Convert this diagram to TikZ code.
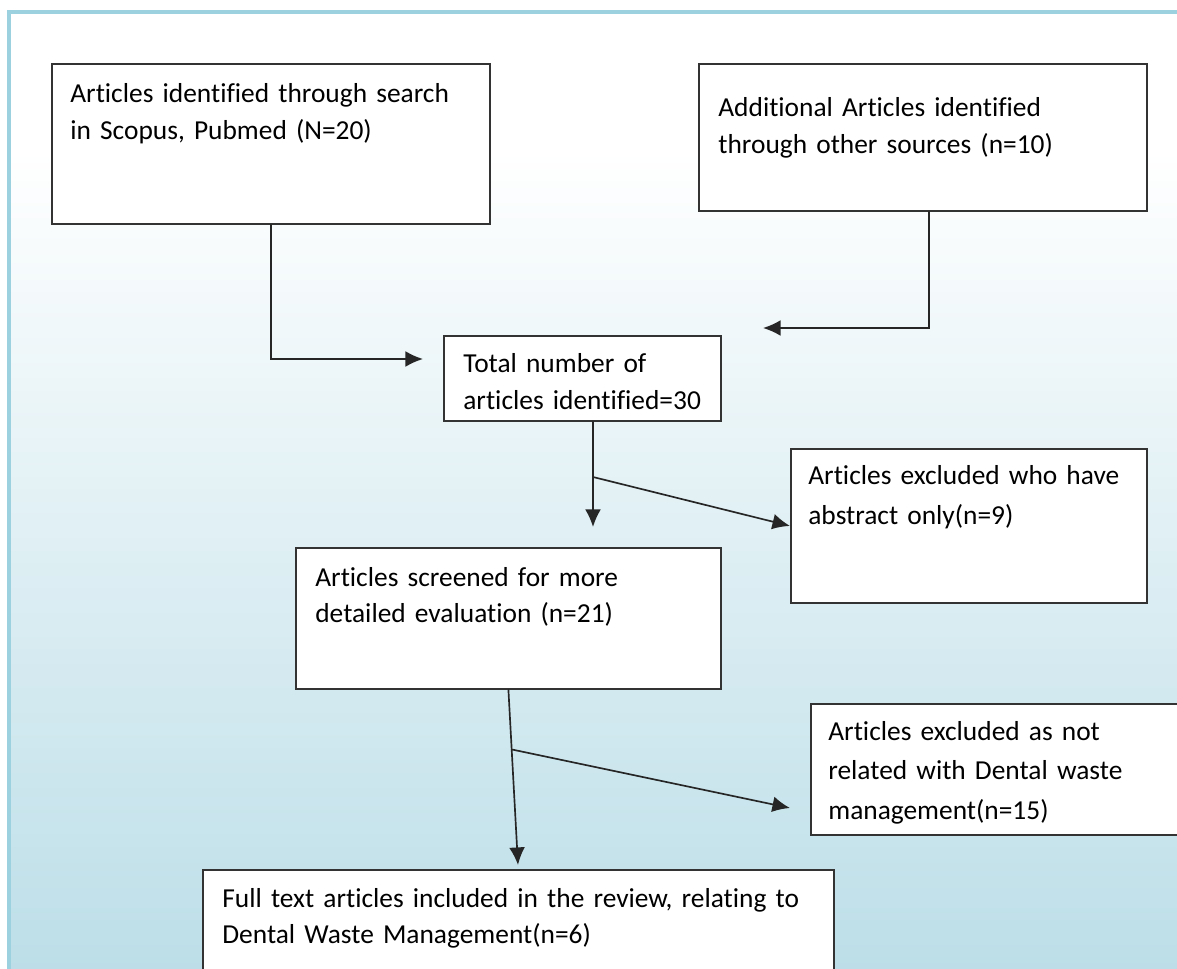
\documentclass[tikz,border=0pt]{standalone}
\usepackage{fontspec}
\setmainfont[Ligatures={NoCommon}]{Carlito}
\usetikzlibrary{arrows.meta,calc}

\begin{document}
\begin{tikzpicture}[x=0.02cm, y=-0.02cm, line cap=round,
  box/.style={draw=black!80, line width=1.1pt, fill=white, anchor=north west, inner sep=0pt},
  txt/.style={anchor=base west, inner sep=0pt, align=left, font=\fontsize{15.6}{20.5}\selectfont},
  txtwide/.style={txt, font=\fontsize{15.6}{22.5}\selectfont},
  flow/.style={draw=black!85, line width=0.95pt, -{Latex[length=10pt,width=9pt]}},
  line/.style={draw=black!85, line width=0.95pt}]
  \definecolor{frameblue}{HTML}{9CD2E0}
  \definecolor{bgblue}{HTML}{BADDE7}
  \useasboundingbox (0,0) rectangle (1177,969);
  \clip (0,0) rectangle (1177,969);
  % background frame
  \fill[white] (9,12) rectangle (1200,1000);
  \shade[top color=white, bottom color=bgblue] (9,150) rectangle (1200,1000);
  \draw[frameblue, line width=2pt] (9,12) rectangle (1200,1000);
  % boxes
  \node[box, minimum width=8.76cm, minimum height=3.2cm] (srch) at (51,63) {};
  \node[txt, text width=8.3cm] (srch-t) at (70,103) {Articles identified through search\\in Scopus, Pubmed (N=20)};
  \node[box, minimum width=8.96cm, minimum height=2.94cm] (othr) at (698,63) {};
  \node[txt, text width=8.5cm] (othr-t) at (718,117) {Additional Articles identified\\through other sources (n=10)};
  \node[box, minimum width=5.54cm, minimum height=1.7cm] (tot) at (443,335) {};
  \node[txt, text width=5.1cm] (tot-t) at (463,373) {Total number of\\articles identified=30};
  \node[box, minimum width=7.12cm, minimum height=3.08cm] (excl1) at (790,448) {};
  \node[txtwide, text width=6.8cm] (excl1-t) at (808,485) {Articles excluded who have\\abstract only(n=9)};
  \node[box, minimum width=8.5cm, minimum height=2.82cm] (scrn) at (295,547) {};
  \node[txt, text width=8cm] (scrn-t) at (315,586) {Articles screened for more\\detailed evaluation (n=21)};
  \node[box, minimum width=8cm, minimum height=2.62cm] (excl2) at (810,703) {};
  \node[txtwide, text width=7cm] (excl2-t) at (828,740) {Articles excluded as not\\related with Dental waste\\management(n=15)};
  \node[box, minimum width=12.62cm, minimum height=2.6cm] (incl) at (202,869) {};
  \node[txt, text width=12cm] (incl-t) at (222,907) {Full text articles included in the review, relating to\\Dental Waste Management(n=6)};
  % identification
  \coordinate (in1) at (423,359);
  \coordinate (in2) at (763,328);
  \draw[flow] (srch.south) |- (in1);
  \draw[flow] (othr.south) ++(6,0) |- (in2);
  % screening
  \coordinate (j1) at (593,477);
  \coordinate (d1) at (593,527);
  \draw[flow] (tot.south -| j1) -- (d1);
  \draw[flow] (j1) -- (excl1.west);
  \coordinate (d2) at (518,865);
  \coordinate (e2) at (790,808);
  \draw[flow] (scrn.south) -- (d2);
  \draw[flow] ($(scrn.south)!0.34!(d2)$) coordinate (j2) -- (e2);
\end{tikzpicture}
\end{document}
